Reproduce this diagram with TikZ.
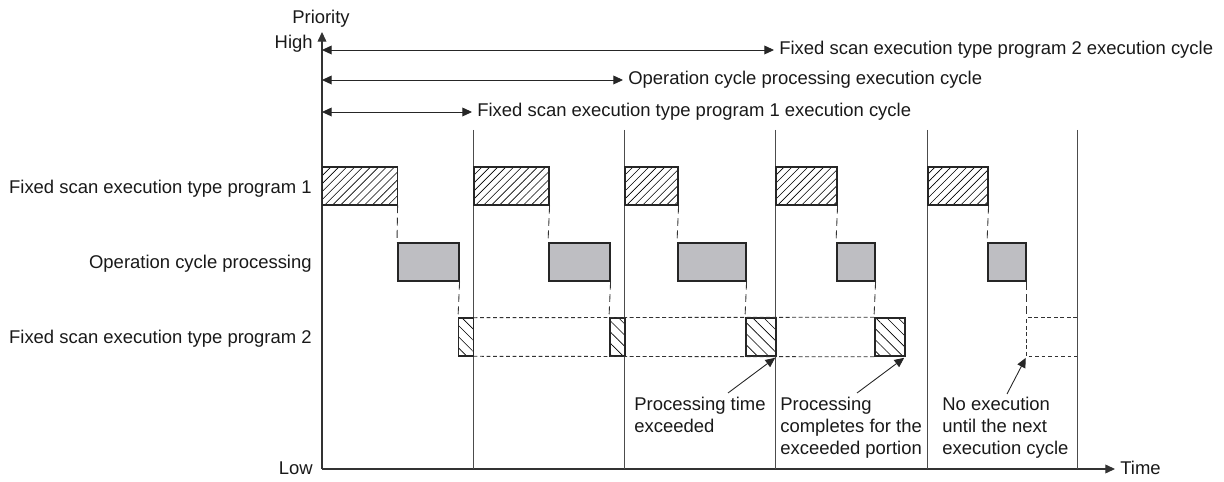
\documentclass[tikz,border=0pt]{standalone}
\usepackage{fontspec}
\setmainfont{Liberation Sans}
\usetikzlibrary{arrows.meta,patterns.meta}
\definecolor{opgray}{RGB}{190,190,194}
\begin{document}
\begin{tikzpicture}[x=0.02cm, y=-0.02cm,
	lbl/.style={font=\fontsize{10.5}{12.5}\selectfont, inner sep=0pt, text=black!90},
	axis/.style={draw=black!80, line width=0.6pt, -{Triangle[length=5.5pt,width=5pt]}},
	span/.style={draw=black!85, line width=0.5pt,
		{Triangle[length=5.5pt,width=5pt]}-{Triangle[length=5.5pt,width=5pt]}},
	period/.style={draw=black!70, line width=0.5pt},
	task/.style={draw=black!85, line width=0.9pt, minimum height=0.76cm,
		inner sep=0pt, anchor=west},
	prgone/.style={task, pattern={Lines[angle=45,distance=3.2pt,line width=0.35pt]}},
	opcyc/.style={task, fill=opgray},
	prgtwo/.style={task, pattern={Lines[angle=-45,distance=4.5pt,line width=0.35pt]}},
	drop/.style={draw=black!80, line width=0.5pt, dash pattern=on 4.5pt off 2.5pt},
	idle/.style={draw=black!80, line width=0.5pt, dash pattern=on 2.2pt off 1.5pt},
	pointer/.style={draw=black!85, line width=0.5pt, shorten >=1pt,
		-{Triangle[length=5.5pt,width=5pt]}},
]
\useasboundingbox (0,0) rectangle (1224,482);

% axes
\coordinate (org) at (322,469);
\coordinate (ptop) at (322,32);
\coordinate (tend) at (1115,469);
\draw[axis] (org) -- (ptop);
\draw[axis] (org) -- (tend);
\node[lbl, anchor=base] (prio) at (321,24) {Priority};
\node[lbl, anchor=base east] (high) at (313,49) {High};
\node[lbl, anchor=base east] (low) at (313,475) {Low};
\node[lbl, anchor=base west] (time) at (1120,475) {Time};

% execution cycles
\node[lbl, anchor=west] (sp1) at (779,50) {Fixed scan execution type program 2 execution cycle};
\node[lbl, anchor=west] (sp2) at (628,80) {Operation cycle processing execution cycle};
\node[lbl, anchor=west] (sp3) at (477,112) {Fixed scan execution type program 1 execution cycle};
\foreach \s in {sp1,sp2,sp3}
	\draw[span] (org |- \s.west) -- ([xshift=-1mm]\s.west);
\foreach \x [count=\i] in {473,624,775,927,1077} {
	\coordinate (top\i) at (\x,130);
	\draw[period] (top\i) -- (top\i |- org);
}

% rows
\node[lbl, anchor=base east] (r1) at (312,194) {Fixed scan execution type program 1};
\node[lbl, anchor=base east] (r2) at (312,269) {Operation cycle processing};
\node[lbl, anchor=base east] (r3) at (312,344) {Fixed scan execution type program 2};

\foreach \s/\w [count=\i] in {322/1.5,473/1.5,624/1.06,775/1.22,927/1.2}
	\node[prgone, minimum width=\w cm] (a\i) at (\s,186) {};
\foreach \s/\w [count=\i] in {397/1.22,548/1.22,677/1.36,836/0.76,987/0.76}
	\node[opcyc, minimum width=\w cm] (b\i) at (\s,262) {};
\foreach \s/\w [count=\i] in {458/0.3,609/0.3,745/0.6,874/0.6}
	\node[prgtwo, minimum width=\w cm] (c\i) at (\s,337) {};

\draw[idle] (c1.north east) -- (c4.north west);
\draw[idle] (c1.south east) -- (c4.south west);
\foreach \i in {1,...,5}
	\draw[drop] (a\i.south east) -- (b\i.north west);
\foreach \i in {1,...,4}
	\draw[drop] (b\i.south east) -- (c\i.north west);
\coordinate (w1) at (b5.south east |- c1.north);
\coordinate (w2) at (b5.south east |- c1.south);
\draw[drop] (b5.south east) -- (w1);
\draw[idle] (top5 |- w1) -- (w1) -- (w2) -- (top5 |- w2);

% notes
\node[lbl, anchor=north west, align=left] (n1) at (634,397) {Processing time\\exceeded};
\node[lbl, anchor=north west, align=left] (n2) at (780,397) {Processing\\completes for the\\exceeded portion};
\node[lbl, anchor=north west, align=left] (n3) at (942,397) {No execution\\until the next\\execution cycle};
\coordinate (p1) at (728,393);
\coordinate (p2) at (857,393);
\coordinate (p3) at (1007,394);
\draw[pointer] (p1) -- (c3.south east);
\draw[pointer] (p2) -- (c4.south east);
\draw[pointer] (p3) -- (w2);
\end{tikzpicture}
\end{document}
